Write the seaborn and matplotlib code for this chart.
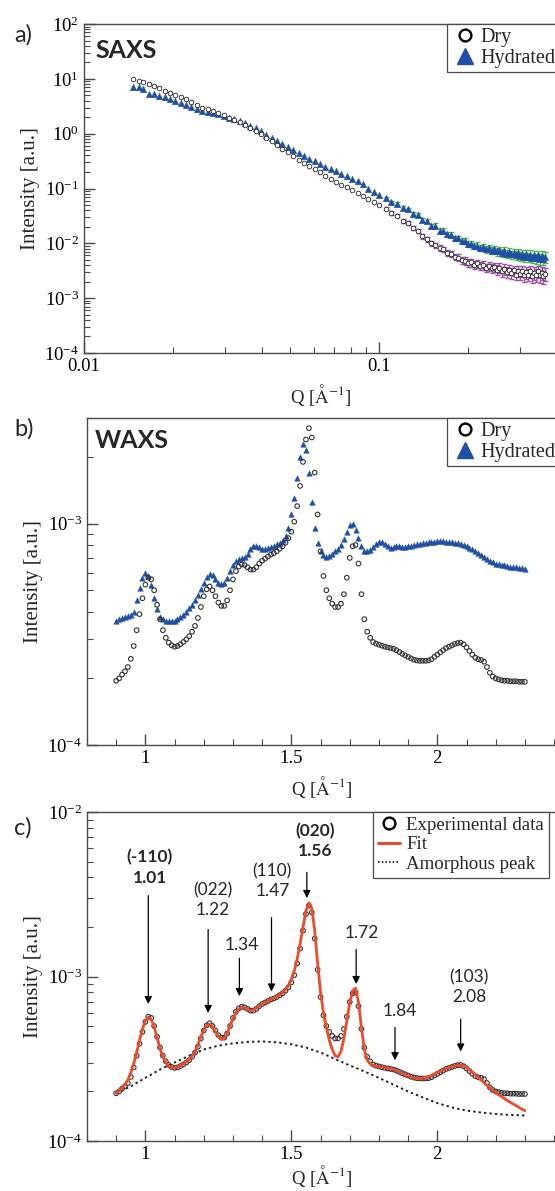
import numpy as np
import seaborn as sns
import matplotlib.pyplot as plt
from matplotlib import ticker
from matplotlib.lines import Line2D

# ---------------- data ----------------
# SAXS (panel a): Q in 1/Angstrom, intensity in a.u.
saxs_q = [0.0147, 0.0153, 0.0159, 0.0166, 0.0173, 0.0180, 0.0188, 0.0196, 0.0204, 0.0213,
          0.0222, 0.0231, 0.0241, 0.0251, 0.0262, 0.0273, 0.0285, 0.0297, 0.0310, 0.0323,
          0.0337, 0.0351, 0.0366, 0.0382, 0.0398, 0.0415, 0.0433, 0.0451, 0.0470, 0.0490,
          0.0511, 0.0533, 0.0556, 0.0580, 0.0605, 0.0630, 0.0657, 0.0685, 0.0714, 0.0745,
          0.0777, 0.0810, 0.0845, 0.0881, 0.0919, 0.0958, 0.1000,
          0.105, 0.110, 0.115, 0.120, 0.125, 0.130, 0.135, 0.140, 0.145, 0.150,
          0.155, 0.160, 0.165, 0.170, 0.175, 0.180, 0.185, 0.190, 0.195, 0.200,
          0.205, 0.210, 0.215, 0.220, 0.225, 0.230, 0.235, 0.240, 0.245, 0.250,
          0.255, 0.260, 0.265, 0.270, 0.275, 0.280, 0.285, 0.290, 0.295, 0.300,
          0.305, 0.310, 0.315, 0.320, 0.325, 0.330, 0.335, 0.340, 0.345, 0.350,
          0.355, 0.360, 0.365]
saxs_dry = [10.0, 9.3, 8.6, 7.9, 7.3, 6.7, 6.1, 5.6, 5.1, 4.6,
            4.2, 3.8, 3.4, 3.0, 2.8, 2.55, 2.35, 2.15, 1.95, 1.78,
            1.6, 1.44, 1.28, 1.12, 0.97, 0.84, 0.72, 0.62, 0.53, 0.46,
            0.39, 0.335, 0.29, 0.255, 0.225, 0.197, 0.172, 0.151, 0.133, 0.118,
            0.105, 0.093, 0.083, 0.073, 0.065, 0.057, 0.050,
            0.043, 0.036, 0.032, 0.026, 0.0235, 0.019, 0.0168, 0.0135, 0.0118, 0.0100,
            0.0093, 0.0083, 0.0078, 0.0068, 0.0065, 0.0057, 0.0055, 0.0049, 0.0048, 0.0044,
            0.0045, 0.0041, 0.0043, 0.0039, 0.0040, 0.0036, 0.0039, 0.0035, 0.0037, 0.0033,
            0.0036, 0.0031, 0.0034, 0.0030, 0.0033, 0.0029, 0.0032, 0.0027, 0.0031, 0.0028,
            0.0031, 0.0026, 0.0030, 0.0027, 0.0031, 0.0025, 0.0029, 0.0027, 0.0031, 0.0026,
            0.0029, 0.0025, 0.0028]
saxs_hyd = [7.2, 7.0, 6.5, 5.4, 5.2, 4.9, 4.6, 4.2, 3.9, 3.6,
            3.4, 3.1, 2.85, 2.6, 2.5, 2.4, 2.25, 2.1, 1.97, 1.82,
            1.68, 1.55, 1.4, 1.25, 1.1, 0.96, 0.84, 0.73, 0.64, 0.56,
            0.50, 0.44, 0.39, 0.35, 0.315, 0.28, 0.25, 0.225, 0.205, 0.185,
            0.166, 0.15, 0.135, 0.12, 0.097, 0.085, 0.075,
            0.066, 0.057, 0.053, 0.045, 0.042, 0.035, 0.033, 0.027, 0.026, 0.021,
            0.021, 0.017, 0.0170, 0.0145, 0.0142, 0.0124, 0.0123, 0.0110, 0.0110, 0.0098,
            0.0099, 0.0090, 0.0091, 0.0083, 0.0085, 0.0078, 0.0081, 0.0074, 0.0078, 0.0071,
            0.0075, 0.0068, 0.0072, 0.0065, 0.0070, 0.0063, 0.0068, 0.0061, 0.0066, 0.0059,
            0.0064, 0.0057, 0.0063, 0.0056, 0.0062, 0.0054, 0.0061, 0.0053, 0.0060, 0.0052,
            0.0059, 0.0051, 0.0057]
# relative error bars, only visible on the high-Q tail (last 53 points)
saxs_dry_relerr = [0.06, 0.07, 0.07, 0.08, 0.08, 0.09, 0.09, 0.10, 0.10, 0.11,
                   0.11, 0.12, 0.12, 0.13, 0.13, 0.14, 0.14, 0.15, 0.15, 0.16,
                   0.16, 0.17, 0.17, 0.18, 0.18, 0.18, 0.19, 0.19, 0.19, 0.20,
                   0.20, 0.20, 0.21, 0.21, 0.21, 0.22, 0.22, 0.22, 0.23, 0.23,
                   0.23, 0.24, 0.24, 0.24, 0.25, 0.25, 0.25, 0.26, 0.26, 0.26,
                   0.27, 0.27, 0.27]
saxs_hyd_relerr = [0.05, 0.05, 0.06, 0.06, 0.07, 0.07, 0.08, 0.08, 0.09, 0.09,
                   0.10, 0.10, 0.10, 0.11, 0.11, 0.11, 0.12, 0.12, 0.12, 0.13,
                   0.13, 0.13, 0.14, 0.14, 0.14, 0.15, 0.15, 0.15, 0.16, 0.16,
                   0.16, 0.16, 0.17, 0.17, 0.17, 0.17, 0.18, 0.18, 0.18, 0.18,
                   0.19, 0.19, 0.19, 0.19, 0.20, 0.20, 0.20, 0.20, 0.21, 0.21,
                   0.21, 0.21, 0.22]

# WAXS (panels b, c): intensities in units of 1e-4 a.u.
waxs_q = [0.90, 0.91, 0.92, 0.93, 0.94, 0.95, 0.96, 0.97, 0.98, 0.99,
          1.00, 1.01, 1.02, 1.03, 1.04, 1.05, 1.06, 1.07, 1.08, 1.09,
          1.10, 1.11, 1.12, 1.13, 1.14, 1.15, 1.16, 1.17, 1.18, 1.19,
          1.20, 1.21, 1.22, 1.23, 1.24, 1.25, 1.26, 1.27, 1.28, 1.29,
          1.30, 1.31, 1.32, 1.33, 1.34, 1.35, 1.36, 1.37, 1.38, 1.39,
          1.40, 1.41, 1.42, 1.43, 1.44, 1.45, 1.46, 1.47, 1.48, 1.49,
          1.50, 1.51, 1.52, 1.53, 1.54, 1.55, 1.56, 1.57, 1.58, 1.59,
          1.60, 1.61, 1.62, 1.63, 1.64, 1.65, 1.66, 1.67, 1.68, 1.69,
          1.70, 1.71, 1.72, 1.73, 1.74, 1.75, 1.76, 1.77, 1.78, 1.79,
          1.80, 1.81, 1.82, 1.83, 1.84, 1.85, 1.86, 1.87, 1.88, 1.89,
          1.90, 1.91, 1.92, 1.93, 1.94, 1.95, 1.96, 1.97, 1.98, 1.99,
          2.00, 2.01, 2.02, 2.03, 2.04, 2.05, 2.06, 2.07, 2.08, 2.09,
          2.10, 2.11, 2.12, 2.13, 2.14, 2.15, 2.16, 2.17, 2.18, 2.19,
          2.20, 2.21, 2.22, 2.23, 2.24, 2.25, 2.26, 2.27, 2.28, 2.29,
          2.30]
waxs_dry = [1.95, 2.0, 2.08, 2.15, 2.25, 2.45, 2.8, 3.3, 3.9, 4.6,
            5.3, 5.7, 5.6, 5.0, 4.3, 3.7, 3.3, 3.05, 2.9, 2.82,
            2.78, 2.8, 2.85, 2.92, 3.0, 3.1, 3.25, 3.45, 3.75, 4.2,
            4.7, 5.05, 5.2, 5.0, 4.7, 4.4, 4.25, 4.25, 4.5, 5.0,
            5.6, 6.1, 6.4, 6.55, 6.5, 6.35, 6.2, 6.2, 6.35, 6.6,
            6.8, 6.95, 7.1, 7.25, 7.35, 7.5, 7.7, 7.9, 8.2, 8.6,
            9.2, 10.2, 12.0, 14.8, 19.0, 24.0, 27.0, 24.5, 17.0, 11.0,
            7.5, 5.8, 5.0, 4.6, 4.35, 4.2, 4.2, 4.35, 4.8, 5.7,
            7.0, 7.9, 8.0, 6.6, 4.8, 3.7, 3.25, 3.05, 2.92, 2.87,
            2.84, 2.81, 2.78, 2.76, 2.74, 2.72, 2.68, 2.63, 2.58, 2.54,
            2.5, 2.46, 2.43, 2.41, 2.4, 2.4, 2.4, 2.41, 2.44, 2.5,
            2.56, 2.62, 2.68, 2.74, 2.78, 2.82, 2.86, 2.89, 2.9, 2.85,
            2.76, 2.66, 2.56, 2.48, 2.44, 2.42, 2.38, 2.25, 2.12, 2.04,
            2.0, 1.98, 1.96, 1.95, 1.95, 1.94, 1.94, 1.94, 1.93, 1.93,
            1.93]
waxs_hyd = [3.65, 3.7, 3.75, 3.8, 3.82, 3.85, 4.0, 4.5, 5.1, 5.7,
            6.0, 5.8, 5.3, 4.6, 4.1, 3.8, 3.7, 3.65, 3.62, 3.62,
            3.65, 3.7, 3.78, 3.88, 4.0, 4.15, 4.3, 4.5, 4.75, 5.05,
            5.4, 5.75, 5.95, 5.85, 5.6, 5.4, 5.35, 5.4, 5.7, 6.1,
            6.5, 6.8, 6.95, 7.0, 7.05, 7.3, 7.7, 7.9, 7.95, 7.85,
            7.7, 7.7, 7.75, 7.85, 7.95, 8.05, 8.2, 8.4, 8.8, 9.6,
            11.0, 13.0, 16.0, 20.0, 23.0, 21.5, 17.0, 12.5, 9.6, 8.2,
            7.5, 7.2, 7.1, 7.15, 7.3, 7.5, 7.7, 8.0, 8.5, 9.2,
            9.9, 10.0, 9.4, 8.6, 7.9, 7.55, 7.5, 7.6, 7.85, 8.1,
            8.3, 8.3, 8.1, 7.9, 7.8, 7.85, 7.95, 7.9, 7.85, 7.85,
            7.9, 7.95, 8.0, 8.05, 8.1, 8.15, 8.2, 8.25, 8.3, 8.3,
            8.35, 8.35, 8.35, 8.3, 8.3, 8.25, 8.2, 8.15, 8.1, 8.0,
            7.9, 7.8, 7.7, 7.55, 7.4, 7.25, 7.1, 6.95, 6.8, 6.7,
            6.6, 6.55, 6.5, 6.5, 6.45, 6.4, 6.4, 6.35, 6.3, 6.3,
            6.25]
waxs_fit = [1.95, 2.02, 2.1, 2.2, 2.35, 2.6, 2.95, 3.45, 4.1, 4.8,
            5.4, 5.65, 5.5, 4.95, 4.25, 3.65, 3.25, 3.0, 2.85, 2.8,
            2.8, 2.82, 2.87, 2.94, 3.02, 3.12, 3.28, 3.5, 3.85, 4.3,
            4.75, 5.05, 5.15, 4.95, 4.6, 4.3, 4.15, 4.2, 4.5, 5.0,
            5.55, 6.05, 6.35, 6.5, 6.45, 6.3, 6.2, 6.25, 6.4, 6.6,
            6.8, 6.95, 7.1, 7.25, 7.4, 7.55, 7.75, 7.95, 8.3, 8.8,
            9.6, 10.8, 12.8, 15.8, 20.0, 25.0, 28.0, 26.0, 19.0, 12.0,
            8.0, 6.0, 4.9, 4.1, 3.6, 3.3, 3.25, 3.5, 4.2, 5.4,
            6.9, 8.2, 8.5, 7.0, 4.9, 3.6, 3.1, 2.95, 2.88, 2.85,
            2.83, 2.81, 2.79, 2.77, 2.75, 2.72, 2.68, 2.63, 2.58, 2.53,
            2.49, 2.45, 2.42, 2.4, 2.4, 2.41, 2.43, 2.46, 2.5, 2.55,
            2.6, 2.65, 2.7, 2.75, 2.79, 2.83, 2.86, 2.88, 2.89, 2.86,
            2.8, 2.71, 2.62, 2.52, 2.43, 2.34, 2.26, 2.18, 2.1, 2.03,
            1.97, 1.91, 1.86, 1.81, 1.76, 1.72, 1.68, 1.64, 1.6, 1.56,
            1.53]
amorph_q = [0.90, 0.95, 1.00, 1.05, 1.10, 1.15, 1.20, 1.25, 1.30, 1.35,
            1.40, 1.45, 1.50, 1.55, 1.60, 1.65, 1.70, 1.75, 1.80, 1.85,
            1.90, 1.95, 2.00, 2.05, 2.10, 2.15, 2.20, 2.25, 2.30]
amorph = [1.95, 2.15, 2.42, 2.72, 3.0, 3.3, 3.6, 3.8, 3.92, 4.0,
          4.03, 3.98, 3.87, 3.7, 3.45, 3.15, 2.88, 2.65, 2.42, 2.2,
          2.0, 1.84, 1.7, 1.6, 1.53, 1.49, 1.46, 1.44, 1.43]

# peak annotations of panel c: label, text (q, I), arrow q, arrow start I, arrow tip I, bold
peaks = [
    ("(-110)\n1.01", 1.015, 4.6e-3, 1.010, 3.1e-3, 6.8e-4, True),
    ("(022)\n1.22", 1.230, 2.9e-3, 1.215, 1.93e-3, 6.0e-4, False),
    ("1.34", 1.332, 1.56e-3, 1.322, 1.29e-3, 7.6e-4, False),
    ("(110)\n1.47", 1.435, 3.8e-3, 1.432, 2.28e-3, 8.1e-4, False),
    ("(020)\n1.56", 1.580, 6.7e-3, 1.553, 4.3e-3, 3.0e-3, True),
    ("1.72", 1.740, 1.85e-3, 1.722, 1.46e-3, 9.0e-4, False),
    ("1.84", 1.870, 6.2e-4, 1.855, 4.9e-4, 3.1e-4, False),
    ("(103)\n2.08", 2.110, 8.6e-4, 2.080, 5.5e-4, 3.5e-4, False),
]

# ---------------- style ----------------
sns.set_theme(style="ticks")
plt.rcParams["font.family"] = ["Liberation Serif", "DejaVu Serif"]
plt.rcParams["mathtext.fontset"] = "stix"
plt.rcParams["axes.edgecolor"] = "#4a4a4a"
plt.rcParams["axes.linewidth"] = 1.0

BLUE = "#1f4fa6"
SANS = ["Lato", "DejaVu Sans"]
W, H = 555, 1191

fig = plt.figure(figsize=(W / 100, H / 100), dpi=100)


def px_box(left, top, right, bottom):
    return [left / W, 1 - bottom / H, (right - left) / W, (bottom - top) / H]


def style_axis(ax):
    ax.tick_params(which="both", direction="in", colors="#4a4a4a",
                   labelcolor="black", labelsize=13.5, top=False, right=False)
    ax.tick_params(which="major", length=8, width=1.0)
    ax.tick_params(which="minor", length=4.5, width=0.8)


def waxs_axis(ax, xpad):
    ax.set_yscale("log")
    ax.set_xlim(0.8, 2.41)
    ax.set_xticks([1, 1.5, 2], labels=["1", "1.5", "2"])
    ax.xaxis.set_minor_locator(ticker.MultipleLocator(0.1))
    ax.yaxis.set_minor_locator(ticker.LogLocator(base=10, subs=(2, 3, 4, 5, 6, 7, 8, 9)))
    ax.yaxis.set_minor_formatter(ticker.NullFormatter())
    ax.set_xlabel(r"Q [$\mathrm{\AA}^{-1}$]", fontsize=13.5, labelpad=xpad)
    ax.set_ylabel("Intensity [a.u.]", fontsize=15, labelpad=3)
    style_axis(ax)


def dry_wet_legend(top_px):
    handles = [Line2D([], [], ls="none", marker="o", ms=8.5, mfc="none", mec="black", mew=1.7),
               Line2D([], [], ls="none", marker="^", ms=11, mfc=BLUE, mec=BLUE)]
    fig.legend(handles, ["Dry", "Hydrated"], loc="upper left",
               bbox_to_anchor=(447 / W, 1 - top_px / H), bbox_transform=fig.transFigure,
               fontsize=14.5, frameon=True, fancybox=False, edgecolor="#4a4a4a",
               framealpha=1, borderpad=0.2, handletextpad=0.05, labelspacing=0.1,
               handlelength=1.4, borderaxespad=0).get_frame().set_linewidth(0.9)


# ---------------- panel a: SAXS ----------------
ax_a = fig.add_axes(px_box(84, 24, 557, 353))
hi = slice(len(saxs_q) - len(saxs_dry_relerr), None)
q_hi = np.array(saxs_q[hi])
dry_hi = np.array(saxs_dry[hi])
hyd_hi = np.array(saxs_hyd[hi])
ax_a.errorbar(q_hi, dry_hi, yerr=dry_hi * np.array(saxs_dry_relerr), fmt="none",
              ecolor="#a050a8", elinewidth=0.9, capsize=1.8, zorder=1)
ax_a.errorbar(q_hi, hyd_hi, yerr=hyd_hi * np.array(saxs_hyd_relerr), fmt="none",
              ecolor="#52b84a", elinewidth=0.9, capsize=1.8, zorder=1)
sns.scatterplot(x=saxs_q, y=saxs_hyd, ax=ax_a, marker="^", s=22, color=BLUE,
                edgecolor=BLUE, linewidth=0.3, legend=False, zorder=2)
sns.scatterplot(x=saxs_q, y=saxs_dry, ax=ax_a, marker="o", s=11, facecolor="white",
                edgecolor="#222222", linewidth=0.6, legend=False, zorder=3)
ax_a.set_xscale("log")
ax_a.set_yscale("log")
ax_a.set_xlim(0.01, 0.4)
ax_a.set_ylim(1e-4, 1e2)
ax_a.set_xticks([0.01, 0.1], labels=["0.01", "0.1"])
ax_a.xaxis.set_minor_locator(ticker.LogLocator(base=10, subs=(2, 3, 4, 5, 6, 7, 8, 9)))
ax_a.xaxis.set_minor_formatter(ticker.NullFormatter())
ax_a.set_yticks([1e-4, 1e-3, 1e-2, 1e-1, 1e0, 1e1, 1e2])
ax_a.yaxis.set_minor_locator(ticker.LogLocator(base=10, subs=(2, 3, 4, 5, 6, 7, 8, 9)))
ax_a.yaxis.set_minor_formatter(ticker.NullFormatter())
ax_a.set_xlabel(r"Q [$\mathrm{\AA}^{-1}$]", fontsize=13.5, labelpad=5)
ax_a.set_ylabel("Intensity [a.u.]", fontsize=15, labelpad=3)
style_axis(ax_a)
dry_wet_legend(24)

# ---------------- panel b: WAXS ----------------
ax_b = fig.add_axes(px_box(87, 418, 557, 745))
hyd_b = np.array(waxs_hyd) * 1e-4
dry_b = np.array(waxs_dry) * 1e-4
sns.scatterplot(x=waxs_q, y=hyd_b, ax=ax_b, marker="^", s=16, color=BLUE,
                edgecolor=BLUE, linewidth=0.3, legend=False, zorder=2)
sns.scatterplot(x=waxs_q, y=dry_b, ax=ax_b, marker="o", s=11, facecolor="none",
                edgecolor="#333333", linewidth=0.8, legend=False, zorder=3)
ax_b.set_ylim(1e-4, 3e-3)
ax_b.set_yticks([1e-4, 1e-3])
waxs_axis(ax_b, 5)
dry_wet_legend(418)

# ---------------- panel c: WAXS fit ----------------
ax_c = fig.add_axes(px_box(87, 812, 557, 1141))
sns.lineplot(x=amorph_q, y=np.array(amorph) * 1e-4, ax=ax_c, color="#222222",
             linestyle=(0, (1.2, 1.6)), linewidth=1.4, estimator=None, zorder=2)
sns.scatterplot(x=waxs_q, y=dry_b, ax=ax_c, marker="o", s=11, facecolor="none",
                edgecolor="#333333", linewidth=0.8, legend=False, zorder=3)
sns.lineplot(x=waxs_q, y=np.array(waxs_fit) * 1e-4, ax=ax_c, color="#ee4a2c",
             linewidth=2.0, estimator=None, zorder=4)
ax_c.set_ylim(1e-4, 1e-2)
ax_c.set_yticks([1e-4, 1e-3, 1e-2])
waxs_axis(ax_c, 0)

for label, tq, ti, aq, a0, a1, bold in peaks:
    ax_c.annotate("", xy=(aq, a1), xytext=(aq, a0),
                  arrowprops=dict(arrowstyle="-|>", color="black", lw=0.9,
                                  mutation_scale=11, shrinkA=0, shrinkB=0))
    ax_c.text(tq, ti, label, ha="center", va="center", family=SANS, fontsize=12.5,
              fontweight="bold" if bold else "normal", linespacing=1.3)

c_handles = [Line2D([], [], ls="none", marker="o", ms=8.5, mfc="none", mec="black", mew=1.7),
             Line2D([], [], color="#ee4a2c", lw=2.2),
             Line2D([], [], color="#222222", lw=1.2, ls=(0, (1, 1.2)))]
leg_c = fig.legend(c_handles, ["Experimental data", "Fit", "Amorphous peak"],
                   loc="upper left", bbox_to_anchor=(373 / W, 1 - 812 / H),
                   bbox_transform=fig.transFigure, fontsize=13.6, frameon=True,
                   fancybox=False, edgecolor="#4a4a4a", framealpha=1, borderpad=0.25,
                   handletextpad=0.3, labelspacing=0.12, handlelength=1.2, borderaxespad=0)
leg_c.get_frame().set_linewidth(0.9)

# ---------------- panel labels ----------------
for txt, y in [("a)", 35), ("b)", 429), ("c)", 828)]:
    fig.text(14 / W, 1 - y / H, txt, family=SANS, fontsize=17, va="center", ha="left")
for txt, y in [("SAXS", 50), ("WAXS", 441)]:
    fig.text(95 / W, 1 - y / H, txt, family=SANS, fontsize=18, fontweight="bold",
             va="center", ha="left")

fig.savefig("out.png", dpi=100)
